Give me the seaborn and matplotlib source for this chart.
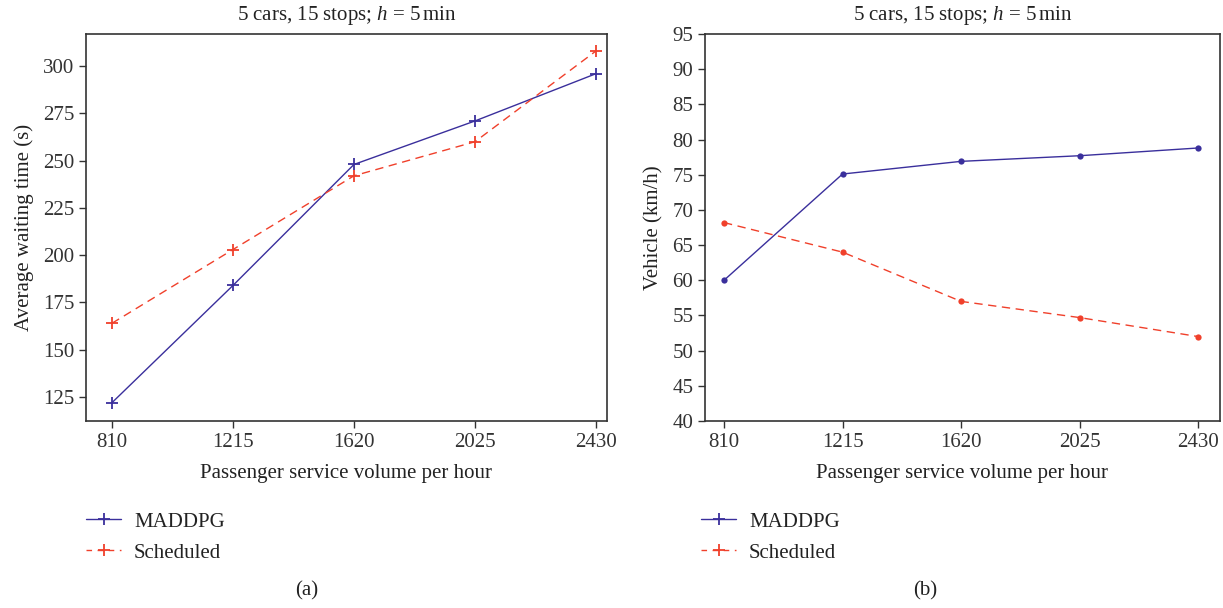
import numpy as np
import pandas as pd
import matplotlib
matplotlib.use("Agg")
import matplotlib.pyplot as plt
from matplotlib.lines import Line2D
import seaborn as sns

# data
volume = [810, 1215, 1620, 2025, 2430]
wait_maddpg = [122, 184, 248, 271, 296]
wait_sched = [164, 203, 242, 260, 308]
speed_maddpg = [60.0, 75.1, 76.9, 77.7, 78.8]
speed_sched = [68.2, 64.0, 57.0, 54.7, 52.0]
series_names = ["MADDPG", "Scheduled"]
title_text = r"5 cars, 15 stops; $h$ = 5$\,$min"

BLUE = "#3a2f9c"
RED = "#f0402b"
FS = 15
DASH = (0, (6, 4))

sns.set_style("ticks")
plt.rcParams["font.family"] = ["Liberation Serif", "DejaVu Serif"]
plt.rcParams["mathtext.fontset"] = "custom"
plt.rcParams["mathtext.rm"] = "Liberation Serif"
plt.rcParams["mathtext.it"] = "Liberation Serif:italic"
plt.rcParams["font.size"] = FS
plt.rcParams["axes.edgecolor"] = "#333333"
plt.rcParams["axes.linewidth"] = 1.2
plt.rcParams["xtick.color"] = "#333333"
plt.rcParams["ytick.color"] = "#333333"
plt.rcParams["text.color"] = "#222222"
plt.rcParams["axes.labelcolor"] = "#222222"

fig = plt.figure(figsize=(12.23, 6.08), dpi=100)
W, H = 1223, 608
ax1 = fig.add_axes([86 / W, 1 - 421 / H, (607 - 86) / W, (421 - 34) / H])
ax2 = fig.add_axes([705 / W, 1 - 421 / H, (1220 - 705) / W, (421 - 34) / H])

df_wait = pd.DataFrame({"volume": volume, "MADDPG": wait_maddpg, "Scheduled": wait_sched})
df_speed = pd.DataFrame({"volume": volume, "MADDPG": speed_maddpg, "Scheduled": speed_sched})

# panel (a)
sns.lineplot(data=df_wait, x="volume", y="MADDPG", ax=ax1, color=BLUE, lw=1.0,
             marker="+", markersize=8, markeredgewidth=1.3, markeredgecolor=BLUE)
sns.lineplot(data=df_wait, x="volume", y="Scheduled", ax=ax1, color=RED, lw=1.0,
             linestyle=DASH, marker="+", markersize=8, markeredgewidth=1.3,
             markeredgecolor=RED)
ax1.set_xlim(723, 2467)
ax1.set_ylim(112.3, 317)
ax1.set_yticks([125, 150, 175, 200, 225, 250, 275, 300])
ax1.set_ylabel("Average waiting time (s)", labelpad=6)

# panel (b)
sns.lineplot(data=df_speed, x="volume", y="MADDPG", ax=ax2, color=BLUE, lw=1.0,
             marker="o", markersize=4.5, markeredgewidth=0)
sns.lineplot(data=df_speed, x="volume", y="Scheduled", ax=ax2, color=RED, lw=1.0,
             linestyle=DASH, marker="o", markersize=4.5, markeredgewidth=0)
ax2.set_xlim(745, 2505)
ax2.set_ylim(40, 95)
ax2.set_yticks(np.arange(40, 96, 5))
ax2.set_ylabel("Vehicle (km/h)", labelpad=6)

for ax in (ax1, ax2):
    ax.set_xticks(volume)
    ax.set_xlabel("Passenger service volume per hour", labelpad=9)
    ax.set_title(title_text, fontsize=FS, pad=10)
    ax.tick_params(length=5, width=1.0, labelsize=FS, direction="out")
    for sp in ax.spines.values():
        sp.set_visible(True)

handles = [
    Line2D([], [], color=BLUE, lw=1.0, marker="+", markersize=8, markeredgewidth=1.3),
    Line2D([], [], color=RED, lw=1.0, linestyle=(0, (4, 4)), marker="+",
           markersize=8, markeredgewidth=1.3),
]
for x0 in (86, 701):
    fig.legend(handles, series_names, loc="upper left",
               bbox_to_anchor=(x0 / W, 1 - 512 / H), frameon=False,
               handlelength=1.7, handletextpad=0.6, labelspacing=0.55,
               borderaxespad=0, borderpad=0, fontsize=FS)

fig.text(307 / W, 1 - 591 / H, "(a)", ha="center", va="center", fontsize=FS)
fig.text(925 / W, 1 - 591 / H, "(b)", ha="center", va="center", fontsize=FS)

fig.savefig("out.png", dpi=100)
